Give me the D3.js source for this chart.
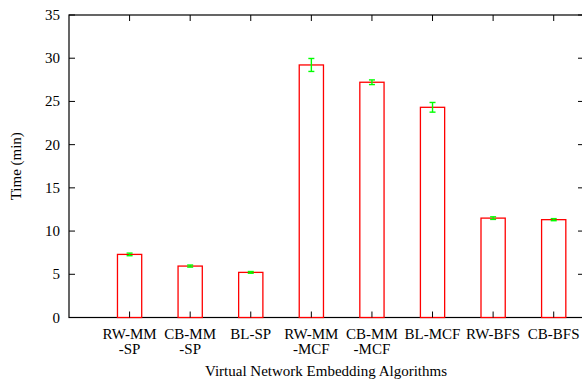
<!DOCTYPE html>
<html>
<head>
<meta charset="utf-8">
<script src="https://d3js.org/d3.v7.min.js"></script>
<style>
  body { margin: 0; background: #fff; }
  svg text { font-family: "Liberation Serif", "Times New Roman", serif; fill: #000; }
</style>
</head>
<body>
<svg id="chart" width="582" height="382"></svg>
<script>
// data
const algos = [["RW-MM", "-SP"], ["CB-MM", "-SP"], ["BL-SP"], ["RW-MM", "-MCF"], ["CB-MM", "-MCF"], ["BL-MCF"], ["RW-BFS"], ["CB-BFS"]];
const times = [7.3, 5.95, 5.22, 29.22, 27.22, 24.32, 11.5, 11.32];
const errs = [0.15, 0.12, 0.1, 0.75, 0.27, 0.56, 0.15, 0.12];
const yTicks = [0, 5, 10, 15, 20, 25, 30, 35];

const svg = d3.select("#chart");
const pLeft = 69, pRight = 584, pTop = 15, pBottom = 317.5;
const fs = 15;

const x = d3.scaleLinear().domain([-1, 7.5]).range([pLeft, pRight]);
const y = d3.scaleLinear().domain([0, 35]).range([pBottom, pTop]);
const barW = x(0.2) - x(-0.2);

// frame
svg.append("rect")
    .attr("x", pLeft).attr("y", pTop)
    .attr("width", pRight - pLeft).attr("height", pBottom - pTop)
    .attr("fill", "none").attr("stroke", "#000").attr("stroke-width", 1.2);

// y ticks (both sides, inward)
yTicks.forEach(t => {
  svg.append("line").attr("x1", pLeft).attr("x2", pLeft + 6)
     .attr("y1", y(t)).attr("y2", y(t)).attr("stroke", "#000");
  svg.append("line").attr("x1", pRight - 6).attr("x2", pRight)
     .attr("y1", y(t)).attr("y2", y(t)).attr("stroke", "#000");
  svg.append("text")
     .attr("x", 60).attr("y", y(t) + 5)
     .attr("text-anchor", "end").attr("font-size", fs)
     .text(t);
});

// bars
svg.selectAll(".bar").data(times).enter()
  .append("rect")
  .attr("class", "bar")
  .attr("x", (d, i) => x(i) - barW / 2)
  .attr("y", d => y(d))
  .attr("width", barW)
  .attr("height", d => pBottom - y(d))
  .attr("fill", "#fff")
  .attr("stroke", "#ff0000")
  .attr("stroke-width", 1.3);

// x ticks (bottom and top, inward)
algos.forEach((a, i) => {
  svg.append("line").attr("x1", x(i)).attr("x2", x(i))
     .attr("y1", pBottom).attr("y2", pBottom - 6).attr("stroke", "#000");
  svg.append("line").attr("x1", x(i)).attr("x2", x(i))
     .attr("y1", pTop).attr("y2", pTop + 6).attr("stroke", "#000");
  const lbl = svg.append("text")
     .attr("x", x(i)).attr("y", 339)
     .attr("text-anchor", "middle").attr("font-size", fs);
  a.forEach((s, j) => {
    lbl.append("tspan").attr("x", x(i)).attr("dy", j == 0 ? 0 : 15).text(s);
  });
});

// error bars
const eb = svg.append("g").attr("stroke", "#00ff00").attr("stroke-width", 1.4);
times.forEach((d, i) => {
  const cx = x(i);
  eb.append("line").attr("x1", cx).attr("x2", cx)
    .attr("y1", y(d - errs[i])).attr("y2", y(d + errs[i]));
  [d - errs[i], d + errs[i]].forEach(v => {
    eb.append("line").attr("x1", cx - 3).attr("x2", cx + 3)
      .attr("y1", y(v)).attr("y2", y(v));
  });
});

// axis titles
svg.append("text")
   .attr("transform", "translate(21," + ((pTop + pBottom) / 2) + ") rotate(-90)")
   .attr("text-anchor", "middle").attr("font-size", fs)
   .text("Time (min)");

svg.append("text")
   .attr("x", (pLeft + pRight) / 2 - 0.5).attr("y", 376)
   .attr("text-anchor", "middle").attr("font-size", fs)
   .text("Virtual Network Embedding Algorithms");
</script>
</body>
</html>
